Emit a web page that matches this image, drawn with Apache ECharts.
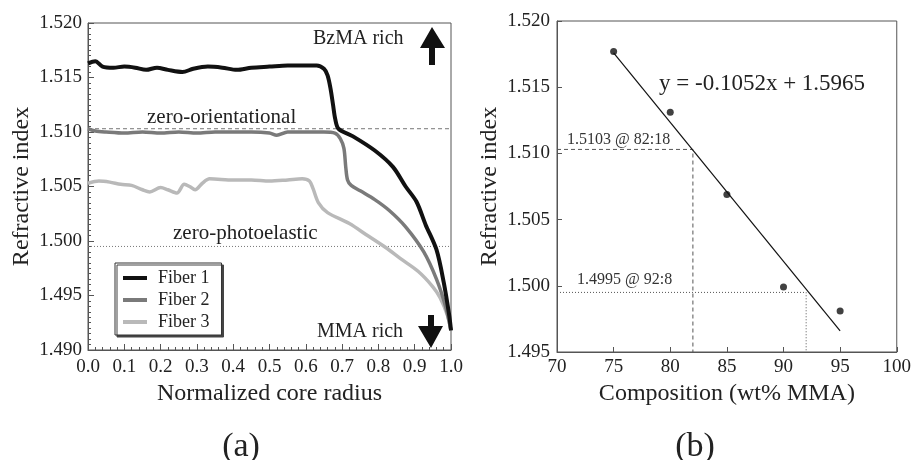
<!DOCTYPE html>
<html>
<head>
<meta charset="utf-8">
<script src="https://cdn.jsdelivr.net/npm/echarts@6/dist/echarts.min.js"></script>
<style>
  html, body { margin: 0; padding: 0; background: #fff; }
  #chart { width: 914px; height: 460px; }
</style>
</head>
<body>
<div id="chart"></div>
<script>
// (a) refractive index profiles vs normalized core radius
var fiber1 = [[0, 1.5163], [0.02, 1.5165], [0.04, 1.5160], [0.07, 1.5159], [0.1, 1.5160], [0.13, 1.5159],
  [0.16, 1.5157], [0.19, 1.5159], [0.22, 1.5157], [0.26, 1.5155], [0.29, 1.5158], [0.33, 1.5160],
  [0.37, 1.5159], [0.41, 1.5157], [0.45, 1.5159], [0.5, 1.5160], [0.55, 1.5161], [0.6, 1.5161],
  [0.63, 1.5161], [0.65, 1.5158], [0.66, 1.5152], [0.668, 1.5140], [0.675, 1.5125], [0.681, 1.5112],
  [0.69, 1.5103], [0.73, 1.5096], [0.79, 1.5083], [0.84, 1.5068], [0.875, 1.5050], [0.905, 1.5036],
  [0.93, 1.5015], [0.96, 1.4992], [0.98, 1.4962], [0.995, 1.4932], [1.0, 1.4918]];
var fiber2 = [[0, 1.5103], [0.02, 1.5101], [0.05, 1.5100], [0.1, 1.5099], [0.15, 1.5100], [0.2, 1.5099],
  [0.25, 1.5100], [0.3, 1.5099], [0.35, 1.5100], [0.4, 1.5100], [0.45, 1.5100], [0.5, 1.5099],
  [0.52, 1.5097], [0.55, 1.5100], [0.6, 1.5100], [0.65, 1.5100], [0.68, 1.5099], [0.695, 1.5094],
  [0.705, 1.5085], [0.71, 1.5068], [0.715, 1.5056], [0.725, 1.5051], [0.75, 1.5046], [0.79, 1.5038],
  [0.83, 1.5028], [0.875, 1.5013], [0.925, 1.4990], [0.96, 1.4965], [0.985, 1.4940], [1.0, 1.4918]];
var fiber3 = [[0, 1.5053], [0.03, 1.5055], [0.06, 1.5054], [0.09, 1.5052], [0.12, 1.5051], [0.15, 1.5047],
  [0.17, 1.5045], [0.2, 1.5049], [0.22, 1.5047], [0.245, 1.5044], [0.265, 1.5052], [0.28, 1.5050],
  [0.295, 1.5047], [0.315, 1.5053], [0.335, 1.5057], [0.4, 1.5056], [0.45, 1.5056], [0.5, 1.5055],
  [0.55, 1.5056], [0.59, 1.5057], [0.61, 1.5055], [0.62, 1.5048], [0.635, 1.5035], [0.66, 1.5026],
  [0.72, 1.5016], [0.77, 1.5005], [0.82, 1.4994], [0.86, 1.4984], [0.91, 1.4972], [0.95, 1.4958],
  [0.97, 1.4948], [0.99, 1.4932], [1.0, 1.4918]];
var zeroOrientational = 1.5103;
var zeroPhotoelastic = 1.4995;

// (b) refractive index vs composition
var composition = [75, 80, 85, 90, 95];
var measuredIndex = [1.5177, 1.5131, 1.5069, 1.4999, 1.4981];
var fitLine = [[75, 1.5176], [95, 1.4966]];
var guide82 = [[70, 1.5103], [82, 1.5103], [82, 1.495]];
var guide92 = [[70, 1.4995], [92, 1.4995], [92, 1.495]];

var serif = "'Liberation Serif', 'DejaVu Serif', serif";
var ink = "#222";

var chart = echarts.init(document.getElementById("chart"));

function axisCommon(extra) {
  return Object.assign({
    type: "value",
    nameLocation: "middle",
    nameTextStyle: { fontFamily: serif, fontSize: 24, color: ink },
    axisLine: { show: true, lineStyle: { color: "#555", width: 1 } },
    axisTick: { show: true, inside: true, length: 6, lineStyle: { color: "#555" } },
    axisLabel: { fontFamily: serif, fontSize: 19, color: ink },
    splitLine: { show: false }
  }, extra);
}

chart.setOption({
  animation: false,
  backgroundColor: "#fff",
  grid: [
    { left: 88, top: 23, width: 363, height: 327, show: true, borderColor: "#555", borderWidth: 1 },
    { left: 557, top: 21, width: 340, height: 331, show: true, borderColor: "#555", borderWidth: 1 }
  ],
  xAxis: [
    axisCommon({
      gridIndex: 0, min: 0, max: 1, interval: 0.1,
      name: "Normalized core radius", nameGap: 30,
      minorTick: { show: true, splitNumber: 5, length: 3, lineStyle: { color: "#555" } },
      axisLabel: { fontFamily: serif, fontSize: 19, color: ink, margin: 8,
        formatter: function (v) { return v.toFixed(1); } }
    }),
    axisCommon({
      gridIndex: 1, min: 70, max: 100, interval: 5,
      name: "Composition (wt% MMA)", nameGap: 27,
      axisTick: { show: true, inside: true, length: 5, lineStyle: { color: "#555" } },
      axisLabel: { fontFamily: serif, fontSize: 19, color: ink, margin: 6 }
    })
  ],
  yAxis: [
    axisCommon({
      gridIndex: 0, min: 1.49, max: 1.52, interval: 0.005,
      name: "Refractive index", nameGap: 54,
      minorTick: { show: true, splitNumber: 10, length: 3, lineStyle: { color: "#555" } },
      axisLabel: { fontFamily: serif, fontSize: 19, color: ink, margin: 6,
        formatter: function (v) { return v.toFixed(3); } }
    }),
    axisCommon({
      gridIndex: 1, min: 1.495, max: 1.52, interval: 0.005,
      name: "Refractive index", nameGap: 55,
      axisTick: { show: true, inside: true, length: 5, lineStyle: { color: "#555" } },
      axisLabel: { fontFamily: serif, fontSize: 19, color: ink, margin: 7,
        formatter: function (v) { return v.toFixed(3); } }
    })
  ],
  legend: {
    left: 115, top: 263, orient: "vertical",
    data: [
      { name: "Fiber 1", icon: "rect" },
      { name: "Fiber 2", icon: "rect" },
      { name: "Fiber 3", icon: "rect" }
    ],
    itemWidth: 24, itemHeight: 4, itemGap: 4,
    padding: [6, 12, 4, 8],
    backgroundColor: "#fff",
    borderColor: "#333", borderWidth: 1,
    shadowColor: "#444", shadowBlur: 0, shadowOffsetX: 2, shadowOffsetY: 2,
    textStyle: { fontFamily: serif, fontSize: 18, color: ink, padding: [0, 0, 0, 6] }
  },
  series: [
    {
      name: "zero-orientational", type: "line", xAxisIndex: 0, yAxisIndex: 0,
      data: [[0, zeroOrientational], [1, zeroOrientational]],
      symbol: "none", silent: true,
      lineStyle: { color: "#777", width: 1, type: [4, 3] }
    },
    {
      name: "zero-photoelastic", type: "line", xAxisIndex: 0, yAxisIndex: 0,
      data: [[0, zeroPhotoelastic], [1, zeroPhotoelastic]],
      symbol: "none", silent: true,
      lineStyle: { color: "#777", width: 1, type: [1, 2] }
    },
    {
      name: "Fiber 3", type: "line", xAxisIndex: 0, yAxisIndex: 0, data: fiber3,
      symbol: "none", smooth: 0.3,
      itemStyle: { color: "#b9b9b9" },
      lineStyle: { color: "#b9b9b9", width: 3.5 }
    },
    {
      name: "Fiber 2", type: "line", xAxisIndex: 0, yAxisIndex: 0, data: fiber2,
      symbol: "none", smooth: 0.3,
      itemStyle: { color: "#7a7a7a" },
      lineStyle: { color: "#7a7a7a", width: 3.5 }
    },
    {
      name: "Fiber 1", type: "line", xAxisIndex: 0, yAxisIndex: 0, data: fiber1,
      symbol: "none", smooth: 0.3,
      itemStyle: { color: "#111" },
      lineStyle: { color: "#111", width: 4 }
    },
    {
      name: "guide82", type: "line", xAxisIndex: 1, yAxisIndex: 1, data: guide82,
      symbol: "none", silent: true,
      lineStyle: { color: "#555", width: 1, type: [4, 3] }
    },
    {
      name: "guide92", type: "line", xAxisIndex: 1, yAxisIndex: 1, data: guide92,
      symbol: "none", silent: true,
      lineStyle: { color: "#555", width: 1, type: [1, 2] }
    },
    {
      name: "fit", type: "line", xAxisIndex: 1, yAxisIndex: 1, data: fitLine,
      symbol: "none", silent: true,
      lineStyle: { color: "#111", width: 1.2 }
    },
    {
      name: "measured", type: "scatter", xAxisIndex: 1, yAxisIndex: 1,
      data: composition.map(function (c, i) { return [c, measuredIndex[i]]; }),
      symbol: "circle", symbolSize: 7,
      itemStyle: { color: "#111" }
    }
  ],
  graphic: [
    { type: "text", x: 147, y: 117, style: { text: "zero-orientational", font: "21px " + serif, fill: ink, verticalAlign: "middle" } },
    { type: "text", x: 173, y: 233, style: { text: "zero-photoelastic", font: "21px " + serif, fill: ink, verticalAlign: "middle" } },
    { type: "text", x: 313, y: 39, style: { text: "BzMA rich", font: "20px " + serif, fill: ink, verticalAlign: "middle" } },
    { type: "text", x: 317, y: 332, style: { text: "MMA rich", font: "20px " + serif, fill: ink, verticalAlign: "middle" } },
    { type: "polygon", shape: { points: [[432, 27], [420, 48], [429, 48], [429, 65], [435, 65], [435, 48], [445, 48]] }, style: { fill: "#111" } },
    { type: "polygon", shape: { points: [[428, 315], [434, 315], [434, 326], [443, 326], [431, 348], [418, 326], [428, 326]] }, style: { fill: "#111" } },
    { type: "text", x: 241, y: 447, style: { text: "(a)", font: "34px " + serif, fill: ink, align: "center", verticalAlign: "middle" } },
    { type: "text", x: 695, y: 447, style: { text: "(b)", font: "34px " + serif, fill: ink, align: "center", verticalAlign: "middle" } },
    { type: "text", x: 659, y: 84, style: { text: "y = -0.1052x + 1.5965", font: "23px " + serif, fill: ink, verticalAlign: "middle" } },
    { type: "text", x: 567, y: 140, style: { text: "1.5103 @ 82:18", font: "16px " + serif, fill: "#333", verticalAlign: "middle" } },
    { type: "text", x: 577, y: 280, style: { text: "1.4995 @ 92:8", font: "16px " + serif, fill: "#333", verticalAlign: "middle" } }
  ]
});
</script>
</body>
</html>
